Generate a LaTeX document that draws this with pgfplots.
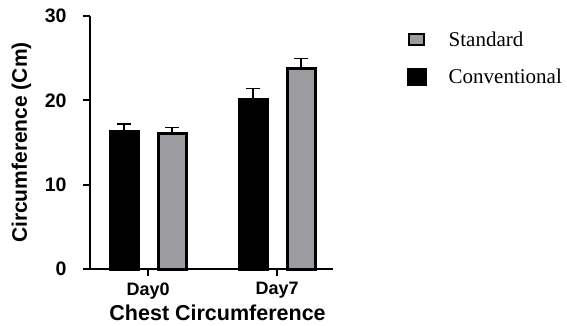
\documentclass[border=0pt]{standalone}
\usepackage{fontspec}
\setmainfont{Liberation Sans}
\newfontfamily\legfont{Liberation Serif}
\usepackage{pgfplots}
\pgfplotsset{compat=1.18}
\definecolor{bargray}{RGB}{155,155,160}
\begin{document}
\begin{tikzpicture}[x=1pt,y=1pt]
\path[use as bounding box] (0,0) rectangle (567,325);
\begin{axis}[
  at={(90pt,56pt)}, anchor=south west,
  scale only axis, width=243pt, height=253pt,
  xmin=-0.45, xmax=1.434, ymin=0, ymax=30,
  axis x line*=bottom, axis y line*=left,
  axis line style={line width=2pt, -},
  xtick={0,1}, xticklabels={Day0,Day7},
  ytick={0,10,20,30},
  tick style={line width=2pt, black},
  major tick length=7pt,
  tick align=outside,
  /pgf/number format/assume math mode=true,
  ticklabel style={font=\bfseries\fontsize{19.5}{19.5}\selectfont},
  yticklabel style={xshift=-13pt},
  xticklabel style={font=\bfseries\fontsize{18}{18}\selectfont, yshift=-3pt},
  ylabel={\bfseries Circumference (Cm)},
  ylabel style={font=\fontsize{21}{21}\selectfont, at={(axis description cs:-0.282,0.5)}, anchor=center},
  xlabel={\bfseries Chest Circumference},
  xlabel style={font=\fontsize{21.5}{21.5}\selectfont, at={(axis description cs:0.525,-0.174)}, anchor=center},
  clip=false,
  reverse legend,
  legend style={at={(1.29,0.955)}, anchor=north west, draw=none, fill=none,
    font=\legfont\fontsize{21}{21}\selectfont, row sep=17pt, column sep=20pt},
  legend cell align=left,
]
\addplot[fill=black, draw=black, line width=3pt, ybar, bar width=28pt, bar shift=0pt,
  legend image code/.code={\fill[black] (0pt,-7.5pt) rectangle (17pt,7.5pt);},
  error bars/.cd, y dir=plus, y explicit,
  error bar style={line width=1.5pt, black},
  error mark options={rotate=90, mark size=7pt, line width=1.5pt, black}]
  coordinates {(-0.186,16.3) +- (0,0.9) (0.814,20.15) +- (0,1.28)};
\addlegendentry{Conventional}
\addplot[fill=bargray, draw=black, line width=3pt, ybar, bar width=28pt, bar shift=0pt,
  legend image code/.code={\draw[fill=bargray, draw=black, line width=2pt] (1pt,-5.5pt) rectangle (16pt,5.5pt);},
  error bars/.cd, y dir=plus, y explicit,
  error bar style={line width=1.5pt, black},
  error mark options={rotate=90, mark size=7pt, line width=1.5pt, black}]
  coordinates {(0.186,16.03) +- (0,0.72) (1.186,23.83) +- (0,1.15)};
\addlegendentry{Standard}
\end{axis}
\end{tikzpicture}
\end{document}
